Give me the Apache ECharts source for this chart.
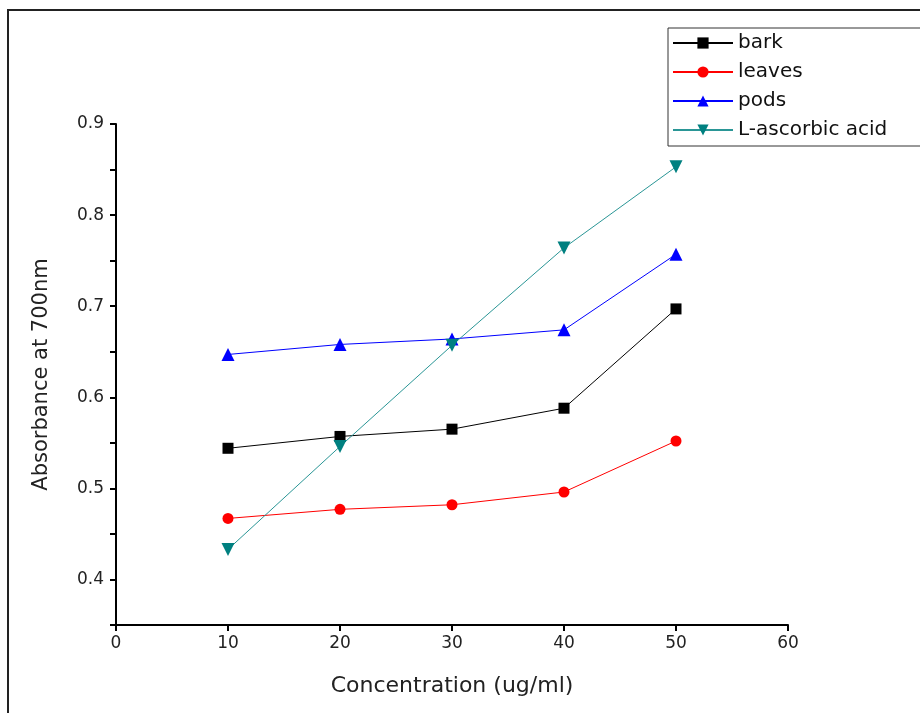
<!DOCTYPE html>
<html>
<head>
<meta charset="utf-8">
<script src="https://cdn.jsdelivr.net/npm/echarts@6/dist/echarts.min.js"></script>
<style>
  html, body { margin: 0; padding: 0; background: #fff; }
  #chart { width: 920px; height: 713px; }
</style>
</head>
<body>
<div id="chart"></div>
<script>
// concentrations (ug/ml)
const concentrations = [10, 20, 30, 40, 50];

// absorbance at 700nm
const bark = [0.544, 0.557, 0.565, 0.588, 0.697];
const leaves = [0.467, 0.477, 0.482, 0.496, 0.552];
const pods = [0.647, 0.658, 0.664, 0.674, 0.757];
const ascorbic = [0.433, 0.546, 0.657, 0.764, 0.853];

const pairs = (ys) => concentrations.map((x, i) => [x, ys[i]]);

const chart = echarts.init(document.getElementById('chart'));

const font = 'DejaVu Sans, Liberation Sans, sans-serif';

function makeSeries(name, ys, color, symbol, extra) {
  return Object.assign({
    name: name,
    type: 'line',
    data: pairs(ys),
    symbol: symbol,
    symbolSize: 11,
    lineStyle: { color: color, width: 1 },
    itemStyle: { color: color },
    emphasis: { disabled: true },
    z: 3
  }, extra || {});
}

const option = {
  animation: false,
  backgroundColor: '#fff',
  textStyle: { fontFamily: font },
  graphic: [{
    type: 'rect',
    shape: { x: 8, y: 10, width: 1000, height: 800 },
    style: { fill: 'none', stroke: '#222', lineWidth: 2 },
    silent: true,
    z: -1
  }],
  grid: { left: 116, right: 132, top: 124, bottom: 88 },
  legend: {
    orient: 'vertical',
    left: 668,
    top: 28,
    itemWidth: 60,
    itemHeight: 14,
    itemGap: 9,
    padding: [5, 40, 6, 4],
    borderColor: '#333',
    borderWidth: 1,
    backgroundColor: '#fff',
    textStyle: { fontSize: 20, color: '#111', fontFamily: font },
    data: ['bark', 'leaves', 'pods', 'L-ascorbic acid']
  },
  xAxis: {
    type: 'value',
    min: 0,
    max: 60,
    interval: 10,
    name: 'Concentration (ug/ml)',
    nameLocation: 'middle',
    nameGap: 50,
    nameTextStyle: { fontSize: 22, color: '#222' },
    axisLine: { onZero: false, lineStyle: { color: '#000', width: 2 } },
    axisTick: { inside: false, length: 6, lineStyle: { color: '#000', width: 2 } },
    axisLabel: { margin: 10, fontSize: 17, color: '#222' },
    splitLine: { show: false }
  },
  yAxis: {
    type: 'value',
    min: 0.35,
    max: 0.9,
    interval: 0.05,
    name: 'Absorbance at 700nm',
    nameLocation: 'middle',
    nameGap: 64,
    nameTextStyle: { fontSize: 21, color: '#222' },
    axisLine: { onZero: false, lineStyle: { color: '#000', width: 2 } },
    axisTick: { inside: false, length: 6, lineStyle: { color: '#000', width: 2 } },
    axisLabel: {
      margin: 12,
      fontSize: 17,
      color: '#222',
      formatter: (v) => {
        const r = Math.round(v * 100);
        return r % 10 === 0 && r >= 40 ? (r / 100).toFixed(1) : '';
      }
    },
    splitLine: { show: false }
  },
  series: [
    makeSeries('bark', bark, '#000000', 'rect'),
    makeSeries('leaves', leaves, '#ff0000', 'circle'),
    makeSeries('pods', pods, '#0000ff', 'triangle', { symbolSize: 13 }),
    makeSeries('L-ascorbic acid', ascorbic, '#008080', 'triangle', {
      symbolSize: 13,
      symbolRotate: 180,
      lineStyle: { color: '#2a9696', width: 1 }
    })
  ]
};

chart.setOption(option);
</script>
</body>
</html>
